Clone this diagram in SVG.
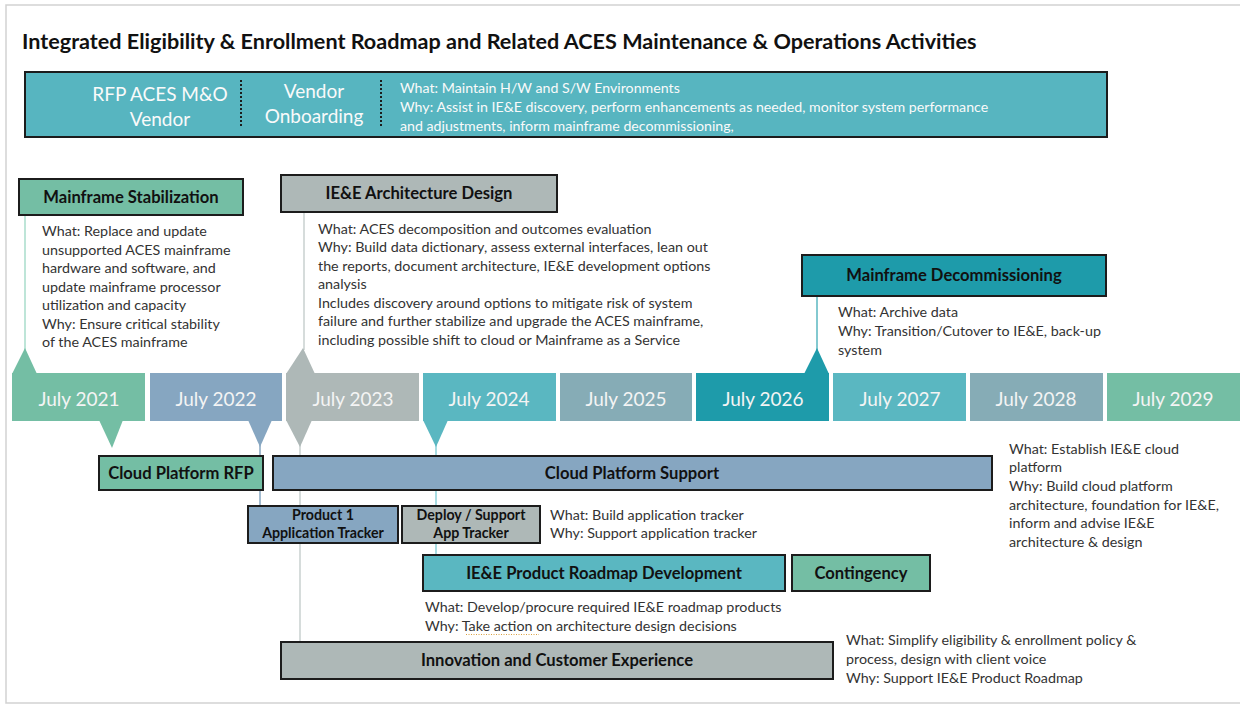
<svg xmlns="http://www.w3.org/2000/svg" width="1240" height="706" viewBox="0 0 1240 706">
<style>
text{font-family:Lato,"Open Sans","Liberation Sans",sans-serif}
.title{font-size:21.6px;font-weight:bold;fill:#111}
.box{stroke:#1c1c1c;stroke-width:2}
.lbl{font-size:16.6px;font-weight:bold;fill:#111;text-anchor:middle}
.sml{font-size:14.2px;font-weight:bold;fill:#111;text-anchor:middle}
.body{font-size:14.3px;fill:#333}
.yr{font-size:19px;fill:#F4F4F4;text-anchor:middle}
.ban{font-size:19px;fill:#FAFAFA;text-anchor:middle}
.banb{font-size:14.2px;fill:#FAFAFA}
.green{fill:#74BEA4}.blue{fill:#86A6C1}.gray{fill:#AEB8B7}.teal{fill:#5AB7C1}.slate{fill:#86ACB6}.dteal{fill:#1E9BAA}
.conn{fill:none;stroke-width:1.5}
</style>
<rect x="0" y="0" width="1240" height="706" fill="#fff"/>
<rect x="6" y="5" width="1240" height="698" fill="none" stroke="#D2D2D2" stroke-width="1.5"/>
<text class="title" x="22" y="49">Integrated Eligibility &amp; Enrollment Roadmap and Related ACES Maintenance &amp; Operations Activities</text>

<g id="banner">
<rect class="box" x="25" y="72" width="1082" height="65" fill="#57B5C0"/>
<text class="ban" x="160" y="101">RFP ACES M&amp;O</text>
<text class="ban" x="160" y="126">Vendor</text>
<line x1="241" y1="80" x2="241" y2="128" stroke="#1c1c1c" stroke-width="2" stroke-dasharray="2 2"/>
<text class="ban" x="314" y="98">Vendor</text>
<text class="ban" x="314" y="123">Onboarding</text>
<line x1="381" y1="80" x2="381" y2="128" stroke="#1c1c1c" stroke-width="2" stroke-dasharray="2 2"/>
<text class="banb" x="400" y="93">What: Maintain H/W and S/W Environments</text>
<text class="banb" x="400" y="112">Why: Assist in IE&amp;E discovery, perform enhancements as needed, monitor system performance</text>
<text class="banb" x="400" y="131">and adjustments, inform mainframe decommissioning,</text>
</g>

<g id="connectors">
<line class="conn" x1="25" y1="215" x2="25" y2="350" stroke="#A8DCCB"/>
<line class="conn" x1="304" y1="212" x2="304" y2="350" stroke="#C9D0CF"/>
<line class="conn" x1="817" y1="296" x2="817" y2="350" stroke="#5AB7C1"/>
<line class="conn" x1="260" y1="445" x2="260" y2="507" stroke="#86A6C1"/>
<line class="conn" x1="300" y1="445" x2="300" y2="642" stroke="#C9D0CF"/>
<line class="conn" x1="436" y1="445" x2="436" y2="556" stroke="#8BD0D8"/>
</g>

<g id="timeline">
<g id="y2021"><rect class="green" x="12" y="373" width="133" height="48"/><polygon class="green" points="12,374 25,348 37,374"/><polygon class="green" points="99,420 112,448 123,420"/><text class="yr" x="79" y="406">July 2021</text></g>
<g id="y2022"><rect class="blue" x="150" y="373" width="132" height="48"/><polygon class="blue" points="248,420 260,447 272,420"/><text class="yr" x="216" y="406">July 2022</text></g>
<g id="y2023"><rect class="gray" x="286" y="373" width="133" height="48"/><polygon class="gray" points="286,374 303,348 315,374"/><polygon class="gray" points="286,420 300,447 312,420"/><text class="yr" x="353" y="406">July 2023</text></g>
<g id="y2024"><rect class="teal" x="423" y="373" width="133" height="48"/><polygon class="teal" points="423,420 436,447 448,420"/><text class="yr" x="489" y="406">July 2024</text></g>
<g id="y2025"><rect class="slate" x="560" y="373" width="132" height="48"/><text class="yr" x="626" y="406">July 2025</text></g>
<g id="y2026"><rect class="dteal" x="696" y="373" width="133" height="48"/><polygon class="dteal" points="804,374 817,348 829,374"/><text class="yr" x="763" y="406">July 2026</text></g>
<g id="y2027"><rect class="teal" x="833" y="373" width="133" height="48"/><text class="yr" x="900" y="406">July 2027</text></g>
<g id="y2028"><rect class="slate" x="970" y="373" width="133" height="48"/><text class="yr" x="1036" y="406">July 2028</text></g>
<g id="y2029"><rect class="green" x="1107" y="373" width="140" height="48"/><text class="yr" x="1173" y="406">July 2029</text></g>
</g>

<g id="mainframe-stabilization">
<rect class="box green" x="19" y="179" width="224" height="36"/>
<text class="lbl" x="131" y="203">Mainframe Stabilization</text>
<text class="body" x="42" y="236">What: Replace and update</text>
<text class="body" x="42" y="255">unsupported ACES mainframe</text>
<text class="body" x="42" y="273">hardware and software, and</text>
<text class="body" x="42" y="292">update mainframe processor</text>
<text class="body" x="42" y="310">utilization and capacity</text>
<text class="body" x="42" y="329">Why: Ensure critical stability</text>
<text class="body" x="42" y="347">of the ACES mainframe</text>
</g>

<g id="architecture-design">
<rect class="box gray" x="281" y="175" width="276" height="37"/>
<text class="lbl" x="419" y="199">IE&amp;E Architecture Design</text>
<text class="body" x="318" y="234">What: ACES decomposition and outcomes evaluation</text>
<text class="body" x="318" y="252">Why: Build data dictionary, assess external interfaces, lean out</text>
<text class="body" x="318" y="271">the reports, document architecture, IE&amp;E development options</text>
<text class="body" x="318" y="289">analysis</text>
<text class="body" x="318" y="308">Includes discovery around options to mitigate risk of system</text>
<text class="body" x="318" y="326">failure and further stabilize and upgrade the ACES mainframe,</text>
<text class="body" x="318" y="345">including possible shift to cloud or Mainframe as a Service</text>
</g>

<g id="mainframe-decommissioning">
<rect class="box dteal" x="802" y="255" width="304" height="41"/>
<text class="lbl" x="954" y="281">Mainframe Decommissioning</text>
<text class="body" x="838" y="317">What: Archive data</text>
<text class="body" x="838" y="336">Why: Transition/Cutover to IE&amp;E, back-up</text>
<text class="body" x="838" y="355">system</text>
</g>

<g id="cloud-platform-rfp">
<rect class="box green" x="99" y="456" width="164" height="34"/>
<text class="lbl" x="181" y="479">Cloud Platform RFP</text>
</g>

<g id="cloud-platform-support">
<rect class="box blue" x="273" y="456" width="719" height="34"/>
<text class="lbl" x="632" y="479">Cloud Platform Support</text>
<text class="body" x="1009" y="454">What: Establish IE&amp;E cloud</text>
<text class="body" x="1009" y="472">platform</text>
<text class="body" x="1009" y="491">Why: Build cloud platform</text>
<text class="body" x="1009" y="510">architecture, foundation for IE&amp;E,</text>
<text class="body" x="1009" y="528">inform and advise IE&amp;E</text>
<text class="body" x="1009" y="547">architecture &amp; design</text>
</g>

<g id="product1">
<rect class="box blue" x="248" y="506" width="150" height="37"/>
<text class="sml" x="323" y="520">Product 1</text>
<text class="sml" x="323" y="538">Application Tracker</text>
</g>

<g id="deploy-support">
<rect class="box gray" x="402" y="506" width="138" height="37"/>
<text class="sml" x="471" y="520">Deploy / Support</text>
<text class="sml" x="471" y="538">App Tracker</text>
<text class="body" x="550" y="520">What: Build application tracker</text>
<text class="body" x="550" y="538">Why: Support application tracker</text>
</g>

<g id="product-roadmap">
<rect class="box teal" x="423" y="555" width="362" height="36"/>
<text class="lbl" x="604" y="579">IE&amp;E Product Roadmap Development</text>
<text class="body" x="425" y="612">What: Develop/procure required IE&amp;E roadmap products</text>
<text class="body" x="425" y="631">Why: Take action on architecture design decisions</text>
<line x1="466" y1="634.5" x2="539" y2="634.5" stroke="#D9A040" stroke-width="1" stroke-dasharray="1 1.5"/>
</g>

<g id="contingency">
<rect class="box green" x="792" y="555" width="138" height="36"/>
<text class="lbl" x="861" y="579">Contingency</text>
</g>

<g id="innovation">
<rect class="box gray" x="281" y="642" width="552" height="37"/>
<text class="lbl" x="557" y="666">Innovation and Customer Experience</text>
<text class="body" x="846" y="645">What: Simplify eligibility &amp; enrollment policy &amp;</text>
<text class="body" x="846" y="664">process, design with client voice</text>
<text class="body" x="846" y="683">Why: Support IE&amp;E Product Roadmap</text>
</g>
</svg>
